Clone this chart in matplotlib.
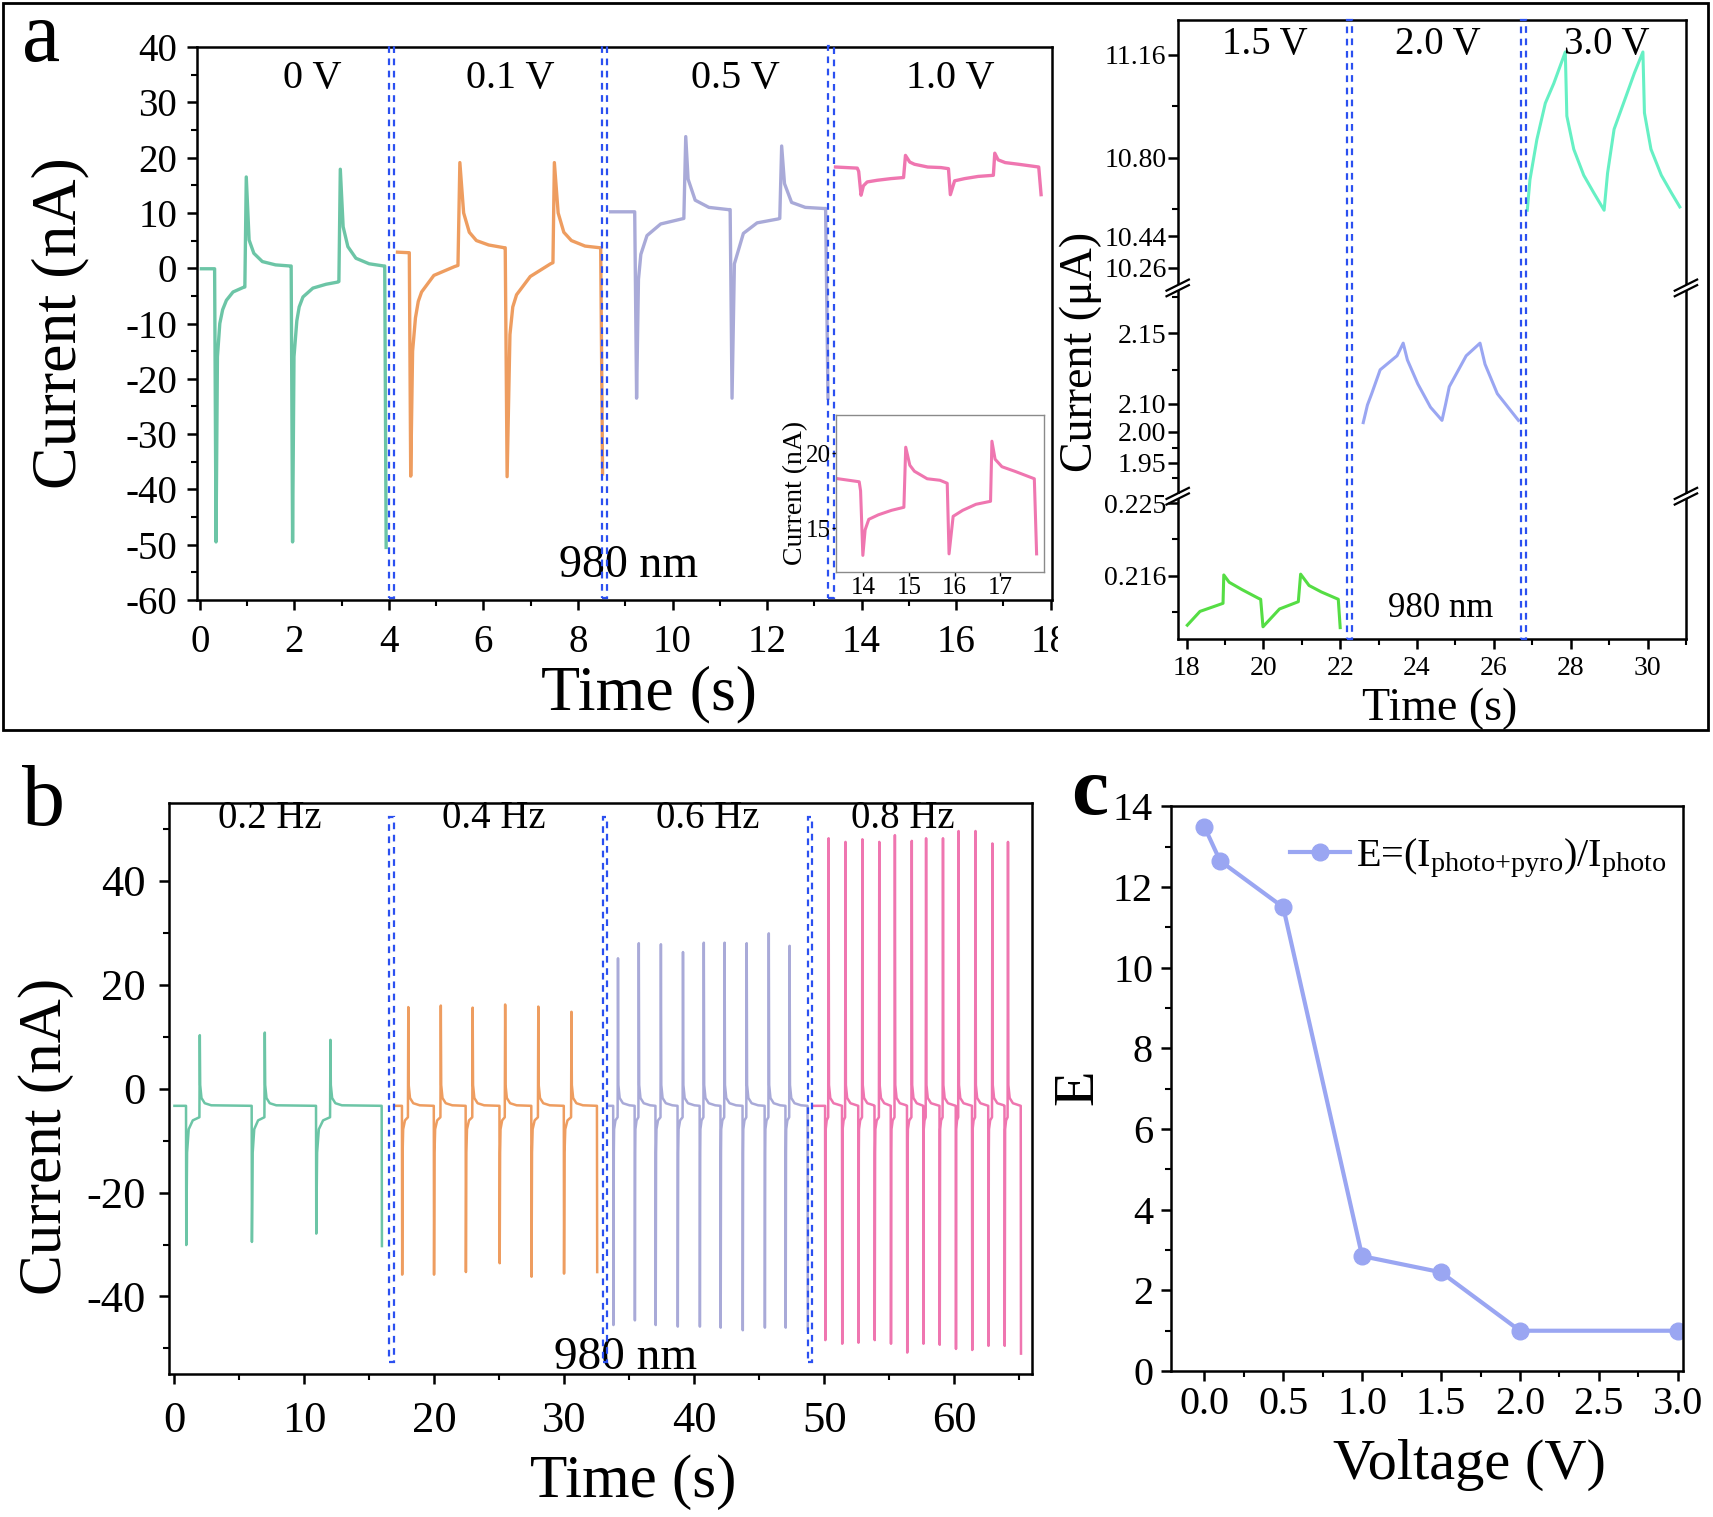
import matplotlib
matplotlib.use("Agg")
import matplotlib.pyplot as plt
import numpy as np
from matplotlib.patches import Rectangle
from matplotlib.ticker import MultipleLocator

plt.rcParams["font.family"] = ["Liberation Serif", "DejaVu Serif"]
plt.rcParams["mathtext.fontset"] = "custom"
plt.rcParams["mathtext.rm"] = "Liberation Serif"
plt.rcParams["mathtext.it"] = "Liberation Serif:italic"
plt.rcParams["axes.unicode_minus"] = False
plt.rcParams["axes.linewidth"] = 1.8

# ---------------- panel a (left): bias-voltage series, nA ----------------
t_0V = [0.03, 0.31, 0.34, 0.37, 0.42, 0.48, 0.56, 0.70, 0.91, 0.95, 0.98,
        1.04, 1.14, 1.32, 1.60, 1.91, 1.93, 1.96, 1.99, 2.05, 2.10, 2.18,
        2.39, 2.67, 2.92, 2.94, 2.97, 3.03, 3.13, 3.30, 3.58, 3.89,
        3.91, 3.94]
i_0V = [-0.1, -0.1, -49.5, -16.0, -10.0, -7.5, -5.8, -4.3, -3.5, -3.4, 16.5,
        5.1, 2.7, 1.2, 0.6, 0.4, 0.4, -49.5, -16.0, -9.5, -7.0, -5.2,
        -3.6, -2.9, -2.5, -2.4, 17.9, 7.5, 3.9, 1.8, 0.8, 0.4,
        0.4, -50.5]
t_01V = [4.18, 4.43, 4.46, 4.50, 4.56, 4.62, 4.69, 4.95, 5.39, 5.46, 5.50,
         5.58, 5.70, 5.85, 6.11, 6.44, 6.46, 6.50, 6.56, 6.62, 6.70, 6.99,
         7.42, 7.47, 7.50, 7.58, 7.70, 7.86, 8.15, 8.46, 8.48, 8.52]
i_01V = [2.9, 2.8, -37.6, -15.0, -9.0, -6.0, -4.3, -1.3, 0.3, 0.5, 19.1,
         10.0, 6.5, 5.0, 4.2, 3.7, 3.7, -37.7, -12.0, -7.0, -4.8, -1.5,
         0.8, 1.0, 19.1, 10.0, 6.5, 5.0, 4.0, 3.7, 3.7, -37.2]
t_05V = [8.69, 9.20, 9.24, 9.28, 9.33, 9.46, 9.75, 10.19, 10.24, 10.28,
         10.33, 10.48, 10.77, 11.18, 11.22, 11.26, 11.31, 11.50, 11.79, 12.23,
         12.27, 12.31, 12.37, 12.52, 12.81, 13.20, 13.24, 13.29]
i_05V = [10.2, 10.2, -23.5, -2.0, 2.5, 5.9, 8.0, 8.9, 9.0, 23.8,
         16.1, 12.3, 11.0, 10.6, 10.6, -23.5, 0.8, 6.3, 8.2, 8.9,
         9.0, 22.1, 15.3, 11.9, 11.0, 10.8, 10.8, -23.5]
t_10V = [13.45, 13.91, 13.94, 13.99, 14.04, 14.12, 14.33, 14.62, 14.89, 14.93,
         15.02, 15.12, 15.40, 15.68, 15.84, 15.88, 15.97, 16.18, 16.47, 16.79,
         16.82, 16.89, 17.04, 17.32, 17.75, 17.80]
i_10V = [18.3, 18.1, 17.5, 13.2, 14.9, 15.6, 15.9, 16.2, 16.4, 20.4,
         19.2, 18.8, 18.3, 18.2, 18.0, 13.3, 15.8, 16.2, 16.6, 16.8,
         20.8, 19.6, 19.1, 18.8, 18.3, 13.3]
a_labels = ["0 V", "0.1 V", "0.5 V", "1.0 V"]
a_label_t = [2.37, 6.57, 11.34, 15.88]
a_bounds = [(3.99, 4.10), (8.50, 8.62), (13.29, 13.41)]

# ---------------- panel a (right): high bias, uA ----------------
t_15V = [18.02, 18.35, 18.89, 18.95, 18.97, 19.11, 19.44, 19.88, 19.93, 19.99,
         20.42, 20.91, 20.97, 21.19, 21.51, 21.95, 22.00]
i_15V = [0.2099, 0.2116, 0.2125, 0.2126, 0.2161, 0.2152, 0.2143, 0.2132, 0.2131, 0.2097,
         0.2119, 0.2128, 0.2162, 0.2148, 0.2140, 0.2131, 0.2096]
t_20V = [22.60, 22.71, 22.82, 23.04, 23.26, 23.48, 23.64, 23.75, 24.02, 24.35,
         24.65, 24.74, 24.84, 25.28, 25.64, 25.77, 26.09, 26.64]
i_20V = [2.032, 2.095, 2.107, 2.124, 2.129, 2.134, 2.143, 2.131, 2.114, 2.087,
         2.040, 2.095, 2.112, 2.134, 2.143, 2.128, 2.107, 2.040]
t_30V = [26.87, 26.94, 27.12, 27.34, 27.56, 27.86, 27.90, 28.08, 28.34, 28.60,
         28.87, 28.96, 29.13, 29.40, 29.66, 29.88, 29.92, 30.09, 30.36, 30.62, 30.84]
i_30V = [10.56, 10.70, 10.864, 10.991, 11.06, 11.17, 10.946, 10.83, 10.72, 10.64,
         10.56, 10.73, 10.90, 11.00, 11.097, 11.17, 10.957, 10.83, 10.72, 10.64, 10.575]
r_labels = ["1.5 V", "2.0 V", "3.0 V"]
r_label_t = [20.04, 24.55, 28.93]
r_bounds = [(22.17, 22.30), (26.70, 26.84)]
r_ticks = [0.216, 0.225, 1.95, 2.00, 2.10, 2.15, 10.26, 10.44, 10.80, 11.16]
r_ticklabels = ["0.216", "0.225", "1.95", "2.00", "2.10", "2.15",
                "10.26", "10.44", "10.80", "11.16"]
r_minor = [0.2115, 0.2205, 1.925, 1.973, 2.124, 2.176, 10.565, 10.98]
# broken-axis knots: value -> relative height on the axis
brk_val = [0.2082, 0.216, 0.225, 0.2259, 1.895, 1.95, 2.00, 2.10, 2.15, 2.1823,
           10.147, 10.26, 10.44, 10.80, 11.16, 11.283]
brk_pos = [0, 135, 290, 305, 306, 377, 443, 503, 653, 750,
           751, 793, 860, 1028, 1248, 1323]

# ---------------- panel b: chopper frequency ----------------
b_base = -3.3
b02_drop = [0.89, 5.94, 10.89, 15.94]
b02_rise = [1.93, 6.93, 11.98]
b02_peak = [10.3, 10.8, 9.4]
b02_trough = [-30.1, -29.5, -27.9, -30.3]
b04_drop = [17.50, 19.95, 22.40, 25.00, 27.45, 29.95, 32.50]
b04_rise = [17.97, 20.47, 22.92, 25.42, 27.97, 30.52]
b04_peak = [15.7, 16.0, 15.6, 16.2, 15.8, 14.8]
b04_trough = [-35.8, -35.8, -35.3, -33.6, -36.2, -35.6, -35.3]
b06_drop = [33.75, 35.40, 37.00, 38.70, 40.40, 42.00, 43.70, 45.40, 47.00, 48.70]
b06_rise = [34.10, 35.70, 37.40, 39.10, 40.70, 42.30, 44.00, 45.70, 47.30]
b06_peak = [25.1, 28.0, 27.8, 26.3, 28.1, 28.1, 28.0, 29.9, 27.5]
b06_trough = [-45.5, -44.6, -45.5, -45.8, -45.8, -46.0, -46.5, -46.0, -46.0, -46.5]
b08_drop = [50.05, 51.35, 52.60, 53.85, 55.10, 56.35, 57.60, 58.85, 60.10,
            61.35, 62.60, 63.85, 65.10]
b08_rise = [50.30, 51.60, 52.90, 54.20, 55.40, 56.70, 57.80, 59.10, 60.30,
            61.60, 62.90, 64.10]
b08_peak = [48.2, 47.5, 48.0, 47.5, 48.8, 47.7, 48.2, 48.2, 49.6, 49.6, 47.2, 47.5]
b08_trough = [-48.4, -49.1, -48.9, -48.4, -49.1, -50.8, -49.1, -49.3, -50.1,
              -50.3, -49.5, -49.5, -51.0]
b_start = [0.0, 16.9, 33.3, 49.1]
b_labels = ["0.2 Hz", "0.4 Hz", "0.6 Hz", "0.8 Hz"]
b_label_t = [7.3, 24.6, 41.0, 56.0]
b_bounds = [(16.5, 16.9), (32.97, 33.28), (48.75, 49.06)]

# ---------------- panel c ----------------
volt = [0.0, 0.1, 0.5, 1.0, 1.5, 2.0, 3.0]
enh = [13.5, 12.65, 11.5, 2.85, 2.45, 1.0, 1.0]

C_GREEN, C_ORANGE, C_LAV, C_PINK = "#6cc5a6", "#ee9d60", "#a9aad8", "#ef76b0"
C_15, C_20, C_30 = "#55dd44", "#9aa6f2", "#66f0c4"
C_DASH = "#2b50f0"


def pulse_train(start, drops, rises, troughs, peaks, base=b_base):
    t, y = [start], [base]
    for k, td in enumerate(drops):
        t += [td, td + 0.02]
        y += [base, troughs[k]]
        if k < len(rises):
            tr = rises[k]
            d = tr - td
            t += [td + 0.05 * d + 0.03, td + 0.2 * d, td + 0.5 * d, tr - 0.01, tr + 0.02]
            y += [base - 9, base - 4.5, base - 2.8, base - 2.2, peaks[k]]
            nxt = drops[k + 1]
            for dt, dy in [(0.05, 4.0), (0.15, 1.5), (0.4, 0.5), (0.9, 0.1)]:
                if tr + dt < nxt - 0.03:
                    t.append(tr + dt)
                    y.append(base + dy)
    return t, y


def style(ax, size):
    ax.tick_params(which="both", direction="out", top=False, right=False,
                   labelsize=size)
    ax.tick_params(which="major", length=7, width=1.8)
    ax.tick_params(which="minor", length=4, width=1.5)


def dash_box(ax, x0, x1, y0, y1):
    ax.add_patch(Rectangle((x0, y0), x1 - x0, y1 - y0, fill=False,
                           edgecolor=C_DASH, lw=1.6, ls=(0, (3, 2.5)),
                           clip_on=False, zorder=4))


fig = plt.figure(figsize=(17.13, 15.17), dpi=100)
fig.add_artist(Rectangle((0.00175, 0.5188), 0.9953, 0.4795, fill=False,
                         lw=2.0, edgecolor="black", transform=fig.transFigure))

# ---- panel a left ----
ax = fig.add_axes([0.1148, 0.6045, 0.4993, 0.3645])
for t, i, c in [(t_0V, i_0V, C_GREEN), (t_01V, i_01V, C_ORANGE),
                (t_05V, i_05V, C_LAV), (t_10V, i_10V, C_PINK)]:
    ax.plot(t, i, color=c, lw=2.4)
for x0, x1 in a_bounds:
    dash_box(ax, x0, x1, -59.6, 40.2)
for s, x in zip(a_labels, a_label_t):
    ax.text(x, 34.3, s, ha="center", va="center", fontsize=29)
ax.text(9.06, -53.9, "980 nm", ha="center", va="center", fontsize=33)
ax.set_xlim(-0.07, 18.03)
ax.set_ylim(-60, 40)
ax.xaxis.set_major_locator(MultipleLocator(2))
ax.xaxis.set_minor_locator(MultipleLocator(1))
ax.yaxis.set_major_locator(MultipleLocator(10))
ax.yaxis.set_minor_locator(MultipleLocator(5))
style(ax, 28)
ax.tick_params(axis="x", pad=10)
ax.tick_params(axis="y", pad=7)
ax.set_xlabel("Time (s)", fontsize=46)
ax.set_ylabel("Current (nA)", fontsize=46)
ax.xaxis.set_label_coords(0.529, -0.118)
ax.yaxis.set_label_coords(-0.125, 0.5)

# inset
axi = fig.add_axes([0.488, 0.623, 0.1214, 0.1035])
axi.plot(t_10V, i_10V, color=C_PINK, lw=2.2)
axi.set_xlim(13.4, 17.96)
axi.set_ylim(12.1, 22.55)
axi.set_xticks([14, 15, 16, 17])
axi.set_yticks([15, 20])
for sp in axi.spines.values():
    sp.set_color("#8a8a8a")
    sp.set_linewidth(1.0)
axi.tick_params(direction="out", length=3, width=1, pad=1, labelsize=18)
axi.set_ylabel("Current (nA)", fontsize=20, labelpad=-2)

# white cover hiding part of the "18" label, as in the source layout
fig.add_artist(Rectangle((0.6176, 0.560), 0.03, 0.036, facecolor="white",
                         edgecolor="none", transform=fig.transFigure, zorder=10))

# ---- panel a right (broken axis) ----
axr = fig.add_axes([0.6875, 0.5788, 0.2967, 0.4082])
axr.set_yscale("function",
               functions=(lambda v: np.interp(v, brk_val, brk_pos),
                          lambda p: np.interp(p, brk_pos, brk_val)))
axr.plot(t_15V, i_15V, color=C_15, lw=2.2)
axr.plot(t_20V, i_20V, color=C_20, lw=2.2)
axr.plot(t_30V, i_30V, color=C_30, lw=2.2)
axr.set_xlim(17.77, 31.0)
axr.set_ylim(brk_val[0], brk_val[-1])
for x0, x1 in r_bounds:
    dash_box(axr, x0, x1, brk_val[0], brk_val[-1])
for s, x in zip(r_labels, r_label_t):
    axr.text(x, 11.196, s, ha="center", va="center", fontsize=28)
axr.text(24.62, 0.2120, "980 nm", ha="center", va="center", fontsize=25)
axr.set_yticks(r_ticks, r_ticklabels)
axr.set_yticks(r_minor, minor=True)
axr.xaxis.set_major_locator(MultipleLocator(2))
axr.xaxis.set_minor_locator(MultipleLocator(1))
style(axr, 20)
axr.tick_params(axis="y", pad=1)
axr.tick_params(axis="x", pad=5)
axr.set_xlabel("Time (s)", fontsize=33)
axr.set_ylabel("Current (\u03bcA)", fontsize=33)
axr.xaxis.set_label_coords(0.515, -0.078)
axr.yaxis.set_label_coords(-0.148, 0.463)
for yb in (305 / 1323, 750 / 1323):
    for xb in (0.0, 1.0):
        axr.add_patch(Rectangle((xb - 0.008, yb - 0.004), 0.016, 0.008,
                                transform=axr.transAxes, facecolor="white",
                                edgecolor="none", clip_on=False, zorder=5))
        for off in (-0.0045, 0.0045):
            axr.plot([xb - 0.022, xb + 0.022], [yb + off - 0.009, yb + off + 0.009],
                     transform=axr.transAxes, color="black", lw=1.6,
                     clip_on=False, zorder=6)

# ---- panel b ----
axb = fig.add_axes([0.0988, 0.094, 0.5039, 0.3767])
for st, dr, ri, tr, pk, c in [
        (b_start[0], b02_drop, b02_rise, b02_trough, b02_peak, C_GREEN),
        (b_start[1], b04_drop, b04_rise, b04_trough, b04_peak, C_ORANGE),
        (b_start[2], b06_drop, b06_rise, b06_trough, b06_peak, C_LAV),
        (b_start[3], b08_drop, b08_rise, b08_trough, b08_peak, C_PINK)]:
    t, y = pulse_train(st, dr, ri, tr, pk)
    axb.plot(t, y, color=c, lw=1.8)
for x0, x1 in b_bounds:
    dash_box(axb, x0, x1, -52.7, 52.3)
for s, x in zip(b_labels, b_label_t):
    axb.text(x, 52.0, s, ha="center", va="center", fontsize=28)
axb.text(34.7, -51.8, "980 nm", ha="center", va="center", fontsize=34)
axb.set_xlim(-0.4, 66.0)
axb.set_ylim(-55, 55)
axb.xaxis.set_major_locator(MultipleLocator(10))
axb.xaxis.set_minor_locator(MultipleLocator(5))
axb.yaxis.set_major_locator(MultipleLocator(20))
axb.yaxis.set_minor_locator(MultipleLocator(10))
style(axb, 32)
axb.tick_params(axis="x", pad=12)
axb.tick_params(axis="y", pad=10)
axb.set_xlabel("Time (s)", fontsize=44)
axb.set_ylabel("Current (nA)", fontsize=44)
axb.xaxis.set_label_coords(0.538, -0.14)
axb.yaxis.set_label_coords(-0.11, 0.417)

# ---- panel c ----
axc = fig.add_axes([0.6837, 0.0962, 0.2985, 0.3722])
axc.plot(volt, enh, color=C_20, lw=3, marker="o", ms=12,
         label=r"E=(I$_{\rm photo{+}pyro}$)/I$_{\rm photo}$")
axc.set_xlim(-0.21, 3.03)
axc.set_ylim(0, 14)
axc.xaxis.set_major_locator(MultipleLocator(0.5))
axc.xaxis.set_minor_locator(MultipleLocator(0.25))
axc.yaxis.set_major_locator(MultipleLocator(2))
axc.yaxis.set_minor_locator(MultipleLocator(1))
style(axc, 29)
axc.tick_params(axis="x", pad=4)
axc.tick_params(axis="y", pad=6)
axc.set_xlabel("Voltage (V)", fontsize=42)
axc.set_ylabel("E", fontsize=42)
axc.xaxis.set_label_coords(0.583, -0.12)
axc.yaxis.set_label_coords(-0.13, 0.503)
axc.legend(loc="center right", bbox_to_anchor=(1.04, 0.909), frameon=False,
           fontsize=29, handlelength=1.5, handletextpad=0.15)

fig.text(0.0128, 0.960, "a", fontsize=62, ha="left", va="baseline")
fig.text(0.0128, 0.456, "b", fontsize=62, ha="left", va="baseline")
fig.text(0.625, 0.4634, "c", fontsize=60, ha="left", va="baseline",
         fontweight="bold")

fig.savefig("out.png", dpi=100, facecolor="white")
